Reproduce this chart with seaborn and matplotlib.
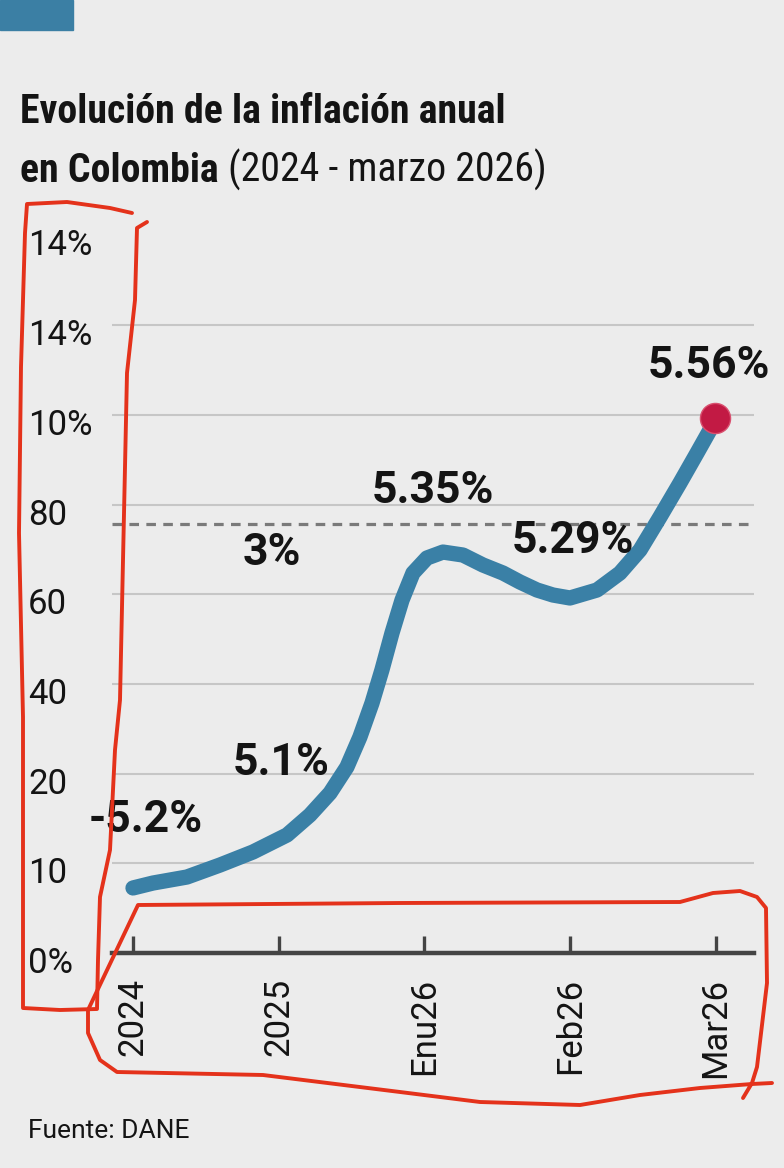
import matplotlib
matplotlib.use("Agg")
import numpy as np
import pandas as pd
import seaborn as sns
import matplotlib.pyplot as plt
from matplotlib import font_manager
from matplotlib.lines import Line2D
from matplotlib.patches import Rectangle
from matplotlib.transforms import ScaledTranslation

# ---------------- data ----------------
categories = ["2024", "2025", "Enu26", "Feb26", "Mar26"]
y_tick_labels = ["0%", "10", "20", "40", "60", "80", "10%", "14%", "14%"]

# traced course of the curve (x in category slots, y in grid slots)
curve_x = [0.000, 0.137, 0.370, 0.597, 0.823, 1.057, 1.214, 1.352, 1.468, 1.557, 1.640,
           1.708, 1.777, 1.846, 1.921, 2.017, 2.127, 2.264, 2.401, 2.539, 2.655, 2.772,
           2.882, 2.998, 3.184, 3.341, 3.479, 3.616, 3.753, 3.870, 3.959, 3.993]
curve_y = [0.725, 0.780, 0.847, 0.981, 1.126, 1.316, 1.538, 1.784, 2.074, 2.408, 2.787,
           3.155, 3.567, 3.935, 4.236, 4.404, 4.470, 4.437, 4.326, 4.236, 4.136, 4.047,
           3.991, 3.958, 4.047, 4.236, 4.493, 4.861, 5.240, 5.574, 5.831, 5.964]

end_x = [3.993]
end_y = [5.964]

label_texts = ["-5.2%", "5.1%", "3%", "5.35%", "5.29%", "5.56%"]
label_x = [0.09, 1.015, 0.954, 2.058, 3.019, 3.952]
label_y = [1.349, 1.984, 4.326, 5.017, 4.459, 6.410]

target_level = 4.78

title_bold_1 = "Evolución de la inflación anual"
title_bold_2 = "en Colombia"
title_reg_2 = " (2024 - marzo 2026)"
source_text = "Fuente: DANE"

# hand-drawn red annotation strokes (pixel positions on the page)
red_left = [(132, 213), (110, 208), (67, 202), (27, 204), (25, 233), (21, 367), (19, 533),
            (23, 717), (23, 1008), (60, 1010), (97, 1009), (98, 960), (100, 897),
            (110, 850), (115, 750), (120, 700), (125, 467), (127, 373), (135, 300),
            (137, 228), (147, 222)]
red_bottom = [(743, 1098), (752, 1083), (757, 1067), (767, 983), (766, 908), (757, 897),
              (740, 891), (713, 893), (680, 902), (400, 903), (138, 905), (88, 1010),
              (88, 1033), (100, 1060), (117, 1072), (263, 1075), (400, 1092), (480, 1102),
              (580, 1105), (640, 1095), (700, 1088), (752, 1084), (772, 1083)]

# ---------------- style ----------------
sns.set_theme(style="white")
names = {f.name for f in font_manager.fontManager.ttflist}


def pick(cands, default):
    for c in cands:
        if c in names:
            return c
    return default


REG = pick(["Roboto", "Open Sans", "Noto Sans"], "DejaVu Sans")
BOLD = pick(["Roboto", "Open Sans"], "DejaVu Sans")
COND = pick(["Roboto Condensed", "Liberation Sans Narrow", "Open Sans Condensed"], BOLD)
plt.rcParams["font.family"] = [REG, "DejaVu Sans"]

BG = "#ececec"
LINE = "#3a80a6"
DOT = "#c21a44"
TXT = "#141414"

W, H = 784, 1168
fig = plt.figure(figsize=(W / 100, H / 100), dpi=100, facecolor=BG)
ax = fig.add_axes([112 / W, (H - 953) / H, (754 - 112) / W, (953 - 217.5) / H])
ax.set_facecolor(BG)

df = pd.DataFrame({"x": curve_x, "y": curve_y})
sns.lineplot(data=df, x="x", y="y", ax=ax, color=LINE, linewidth=11, sort=False,
             solid_capstyle="round", solid_joinstyle="round", zorder=3)
sns.scatterplot(x=end_x, y=end_y, ax=ax, s=470, color=DOT, edgecolor="#d9506f",
                linewidth=1, zorder=5)

ax.axhline(target_level, color="#7a7a7a", linewidth=2.3, linestyle=(0, (3.0, 2.3)), zorder=2)

for t, x, y in zip(label_texts, label_x, label_y):
    ax.text(x, y, t, ha="center", va="baseline", fontsize=32, fontweight="bold",
            family=[BOLD, "DejaVu Sans"], color=TXT, zorder=6)

ax.set_xlim(-0.144, 4.261)
ax.set_ylim(0, 8.2)
ax.set_xticks(range(len(categories)))
ax.set_xticklabels(categories, rotation=90, fontsize=25, color=TXT)
ax.set_yticks(range(len(y_tick_labels)))
ax.set_yticklabels(y_tick_labels, fontsize=25, color=TXT)
ax.set_xlabel("")
ax.set_ylabel("")

for s in ["left", "top", "right"]:
    ax.spines[s].set_visible(False)
ax.spines["bottom"].set_color("#444444")
ax.spines["bottom"].set_linewidth(3.2)
ax.tick_params(axis="x", direction="in", length=12, width=2.4, color="#444444", pad=18,
               bottom=True)
ax.tick_params(axis="y", length=0, pad=60.5)

ax.yaxis.grid(True, color="#c6c6c6", linewidth=1.5)
ax.xaxis.grid(False)
ax.set_axisbelow(True)
for tk, v in zip(ax.yaxis.get_major_ticks(), range(len(y_tick_labels))):
    if v == 0 or v == len(y_tick_labels) - 1:
        tk.gridline.set_visible(False)

off = ScaledTranslation(0, -7 / 100, fig.dpi_scale_trans)
for lab in ax.get_yticklabels():
    lab.set_horizontalalignment("left")
    lab.set_transform(lab.get_transform() + off)

# blue tab top-left
fig.add_artist(Rectangle((0, 1 - 30 / H), 73 / W, 30 / H, transform=fig.transFigure,
                         color="#3b7fa4", zorder=1))

# title
t1 = fig.text(20 / W, 1 - 123 / H, title_bold_1, fontsize=30, fontweight="bold",
              family=[COND, "DejaVu Sans"], color=TXT, va="baseline", ha="left")
t2 = fig.text(20 / W, 1 - 182 / H, title_bold_2, fontsize=30, fontweight="bold",
              family=[COND, "DejaVu Sans"], color=TXT, va="baseline", ha="left")
t3 = fig.text(0, 1 - 182 / H, title_reg_2, fontsize=30, fontweight="normal",
              family=[COND, "DejaVu Sans"], color=TXT, va="baseline", ha="left")
fig.canvas.draw()
r = fig.canvas.get_renderer()
w1 = t1.get_window_extent(r).width
fs = 30 * 485 / w1
for t in (t1, t2, t3):
    t.set_fontsize(fs)
fig.canvas.draw()
w2 = t2.get_window_extent(r).x1
t3.set_x(w2 / W)

fig.text(28 / W, 1 - 1138 / H, source_text, fontsize=19, color=TXT, va="baseline", ha="left")

# red hand annotation
for path in (red_left, red_bottom):
    xs = [p[0] / W for p in path]
    ys = [1 - p[1] / H for p in path]
    fig.add_artist(Line2D(xs, ys, transform=fig.transFigure, color="#e4321b", linewidth=2.8,
                          solid_joinstyle="round", solid_capstyle="round", zorder=10))

fig.savefig("out.png", dpi=100, facecolor=BG)
